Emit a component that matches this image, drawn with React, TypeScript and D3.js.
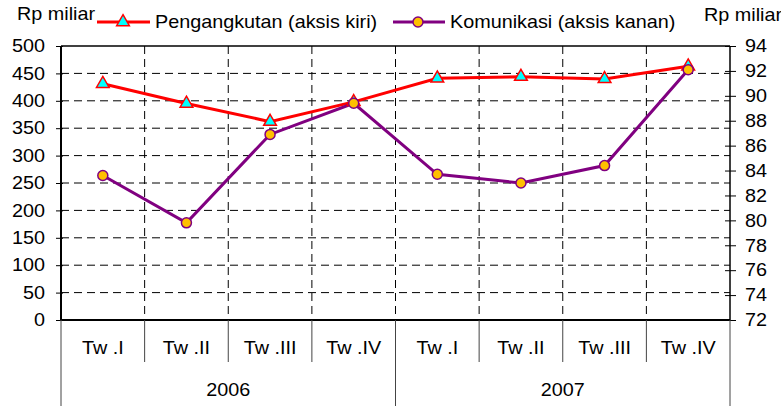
import { useEffect, useRef } from 'react';
import * as d3 from 'd3';

const quarters = ['Tw .I', 'Tw .II', 'Tw .III', 'Tw .IV', 'Tw .I', 'Tw .II', 'Tw .III', 'Tw .IV'];
const years = ['2006', '2007'];
const pengangkutan = [431, 395, 362, 398, 441, 444, 440, 463];
const komunikasi = [83.6, 79.8, 86.9, 89.4, 83.7, 83.0, 84.4, 92.1];
const leftTicks = [0, 50, 100, 150, 200, 250, 300, 350, 400, 450, 500];
const rightTicks = [72, 74, 76, 78, 80, 82, 84, 86, 88, 90, 92, 94];

const FONT = 'Arial, "Liberation Sans", sans-serif';
const SX = 1.1;

// the original is a slightly stretched export, so widen the text a bit
function stretch(sel: d3.Selection<any, any, any, any>) {
  sel.each(function () {
    const t = d3.select(this);
    const x = +(t.attr('x') || 0);
    const y = +(t.attr('y') || 0);
    t.attr('x', 0).attr('y', 0)
      .attr('transform', `translate(${x},${y}) scale(${SX},1)`)
      .style('font-family', FONT).style('font-size', '18px')
      .attr('fill', '#000');
  });
}

export default function App() {
  const svgRef = useRef<SVGSVGElement>(null);

  useEffect(() => {
    if (!svgRef.current) return;
    const svg = d3.select(svgRef.current);
    svg.selectAll('*').remove();

    const left = 61, right = 730, top = 46, bottom = 320;

    const x = d3.scaleBand<number>()
      .domain(d3.range(quarters.length))
      .range([left, right])
      .padding(0);
    const yL = d3.scaleLinear().domain([0, 500]).range([bottom, top]);
    const yR = d3.scaleLinear().domain([72, 94]).range([bottom, top]);
    const cx = (i: number) => (x(i) as number) + x.bandwidth() / 2;

    // horizontal dashed grid
    svg.append('g')
      .selectAll('line')
      .data(leftTicks.filter(t => t > 0 && t < 500))
      .enter().append('line')
      .attr('x1', left).attr('x2', right)
      .attr('y1', d => yL(d)).attr('y2', d => yL(d))
      .attr('stroke', '#000').attr('stroke-width', 1)
      .attr('stroke-dasharray', '8,5');

    // vertical dashed grid
    svg.append('g')
      .selectAll('line')
      .data(d3.range(1, quarters.length))
      .enter().append('line')
      .attr('x1', d => x(d) as number).attr('x2', d => x(d) as number)
      .attr('y1', top).attr('y2', bottom)
      .attr('stroke', '#000').attr('stroke-width', 1)
      .attr('stroke-dasharray', '8,5');

    // frame
    svg.append('line').attr('x1', left).attr('x2', right).attr('y1', top).attr('y2', top)
      .attr('stroke', '#000').attr('stroke-width', 1.5);
    svg.append('line').attr('x1', right).attr('x2', right).attr('y1', top).attr('y2', bottom)
      .attr('stroke', '#000').attr('stroke-width', 1);

    // left axis
    const gl = svg.append('g').attr('transform', `translate(${left},0)`)
      .call(d3.axisLeft(yL).tickValues(leftTicks).tickSize(6).tickFormat(d3.format('d')));
    gl.select('.domain').attr('stroke', '#000').attr('stroke-width', 2).attr('d', `M0,${top}V${bottom}`);
    gl.selectAll('.tick line').attr('x2', -5).attr('x1', 2).attr('stroke', '#000');
    gl.selectAll('.tick text').attr('x', -16);
    stretch(gl.selectAll('.tick text'));

    // right axis
    const gr = svg.append('g').attr('transform', `translate(${right},0)`)
      .call(d3.axisRight(yR).tickValues(rightTicks).tickSize(6).tickFormat(d3.format('d')));
    gr.select('.domain').attr('stroke', '#000').attr('stroke-width', 1).attr('d', `M0,${top}V${bottom}`);
    gr.selectAll('.tick line').attr('x1', -5).attr('x2', 6).attr('stroke', '#000');
    gr.selectAll('.tick text').attr('x', 15);
    stretch(gr.selectAll('.tick text'));

    // category axis
    svg.append('line').attr('x1', left).attr('x2', right).attr('y1', bottom).attr('y2', bottom)
      .attr('stroke', '#000').attr('stroke-width', 2);
    svg.append('g')
      .selectAll('line')
      .data(d3.range(0, quarters.length + 1))
      .enter().append('line')
      .attr('x1', d => d === quarters.length ? right : (x(d) as number))
      .attr('x2', d => d === quarters.length ? right : (x(d) as number))
      .attr('y1', bottom)
      .attr('y2', d => d % 4 === 0 ? 406 : 362)
      .attr('stroke', '#444').attr('stroke-width', 1);
    stretch(svg.append('g')
      .selectAll('text')
      .data(quarters)
      .enter().append('text')
      .attr('x', (_d, i) => cx(i))
      .attr('y', 354)
      .attr('text-anchor', 'middle')
      .text(d => d));
    stretch(svg.append('g')
      .selectAll('text')
      .data(years)
      .enter().append('text')
      .attr('x', (_d, i) => ((x(i * 4) as number) + (i === years.length - 1 ? right : (x(i * 4 + 4) as number))) / 2)
      .attr('y', 396)
      .attr('text-anchor', 'middle')
      .text(d => d));

    // lines
    const lineL = d3.line<number>().x((_d, i) => cx(i)).y(d => yL(d));
    const lineR = d3.line<number>().x((_d, i) => cx(i)).y(d => yR(d));

    svg.append('path').datum(pengangkutan)
      .attr('fill', 'none').attr('stroke', '#ff0000').attr('stroke-width', 3).attr('d', lineL);
    svg.append('path').datum(komunikasi)
      .attr('fill', 'none').attr('stroke', '#800080').attr('stroke-width', 3).attr('d', lineR);

    const tri = d3.symbol().type(d3.symbolTriangle).size(70);
    svg.append('g')
      .selectAll('path')
      .data(pengangkutan)
      .enter().append('path')
      .attr('d', tri)
      .attr('transform', (d, i) => `translate(${cx(i)},${yL(d)})`)
      .attr('fill', '#00ffff').attr('stroke', '#ff0000').attr('stroke-width', 1.5);

    svg.append('g')
      .selectAll('circle')
      .data(komunikasi)
      .enter().append('circle')
      .attr('cx', (_d, i) => cx(i)).attr('cy', d => yR(d)).attr('r', 5)
      .attr('fill', '#ffc000').attr('stroke', '#800080').attr('stroke-width', 1.5);

    // unit labels
    stretch(svg.append('text').attr('x', 17).attr('y', 20).text('Rp miliar'));
    stretch(svg.append('text').attr('x', 704).attr('y', 21).text('Rp miliar'));

    // legend
    const lg = svg.append('g');
    lg.append('line').attr('x1', 97).attr('x2', 150).attr('y1', 22).attr('y2', 22)
      .attr('stroke', '#ff0000').attr('stroke-width', 3);
    lg.append('path').attr('d', tri).attr('transform', 'translate(123,22)')
      .attr('fill', '#00ffff').attr('stroke', '#ff0000').attr('stroke-width', 1.5);
    stretch(lg.append('text').attr('x', 155).attr('y', 28).text('Pengangkutan (aksis kiri)'));
    lg.append('line').attr('x1', 393).attr('x2', 445).attr('y1', 22).attr('y2', 22)
      .attr('stroke', '#800080').attr('stroke-width', 3);
    lg.append('circle').attr('cx', 418).attr('cy', 22).attr('r', 5)
      .attr('fill', '#ffc000').attr('stroke', '#800080').attr('stroke-width', 1.5);
    stretch(lg.append('text').attr('x', 450).attr('y', 28).text('Komunikasi (aksis kanan)'));
  }, []);

  return (
    <svg
      ref={svgRef}
      width={781}
      height={406}
      style={{ position: 'absolute', left: 0, top: 0, background: '#fff' }}
    ></svg>
  );
}
